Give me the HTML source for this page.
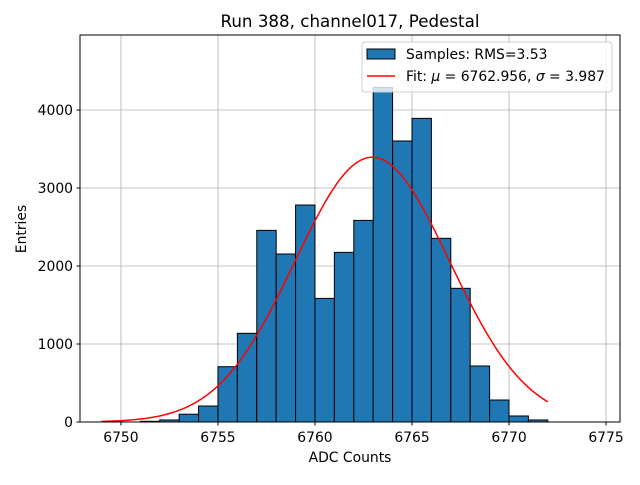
<!DOCTYPE html>
<html><head><meta charset="utf-8"><style>
body{margin:0;background:#fff;}
svg text{font-family:"DejaVu Sans","Liberation Sans",sans-serif;}
</style></head><body>
<svg id="chart" width="640" height="480" xmlns="http://www.w3.org/2000/svg">
<rect width="640" height="480" fill="#fff"/>
<g id="grid"></g>
<g id="bars"></g>
<path id="fit" fill="none" stroke="#ff0000" stroke-width="1.5"/>
<rect x="80" y="35" width="540" height="387" fill="none" stroke="#000" stroke-width="1"/>
<g id="ticks"></g>
<text x="350" y="27" font-size="16.7" text-anchor="middle">Run 388, channel017, Pedestal</text>
<text x="350" y="462" font-size="13.9" text-anchor="middle">ADC Counts</text>
<text x="26" y="229" font-size="13.9" text-anchor="middle" transform="rotate(-90 26 229)">Entries</text>
<g>
<rect x="362" y="42" width="250" height="50" rx="3" fill="#fff" fill-opacity="0.8" stroke="#ccc"/>
<rect x="367" y="49" width="28" height="10" fill="#1f77b4" stroke="#000"/>
<text x="406" y="59" font-size="13.9">Samples: RMS=3.53</text>
<line x1="367" y1="76" x2="395" y2="76" stroke="#f00" stroke-width="1.5"/>
<text x="406" y="81" font-size="13.9">Fit: <tspan font-style="italic">μ</tspan> = 6762.956, <tspan font-style="italic">σ</tspan> = 3.987</text>
</g>
</svg>
<script>
const binStarts=[6751,6752,6753,6754,6755,6756,6757,6758,6759,6760,6761,6762,6763,6764,6765,6766,6767,6768,6769,6770,6771];
const counts=[9,26,100,205,709,1137,2457,2154,2782,1585,2175,2585,4290,3603,3893,2355,1714,718,282,77,26];
const xTicks=[6750,6755,6760,6765,6770,6775];
const yTicks=[0,1000,2000,3000,4000];
const fitMu=6762.956, fitSigma=3.987, fitAmp=3395, fitRange=[6749,6772];
const NS="http://www.w3.org/2000/svg";
const X=v=>80+(v-6747.89)*(540/(6775.72-6747.89));
const Y=v=>422-v*(387/4962);
function mk(t,a,p){const e=document.createElementNS(NS,t);for(const k in a)e.setAttribute(k,a[k]);p.appendChild(e);return e;}
const grid=document.getElementById('grid'),ticks=document.getElementById('ticks'),bars=document.getElementById('bars');
xTicks.forEach(t=>{
 const g=mk('line',{x1:X(t),x2:X(t),y1:35,y2:422,stroke:'#b0b0b0','stroke-width':0.8},grid);
 
 
 const tk=mk('line',{x1:X(t),x2:X(t),y1:422,y2:425.5,stroke:'#000'},ticks);
 
 
 const l=mk('text',{x:X(t),y:442,'font-size':13.9,'text-anchor':'middle'},ticks);l.textContent=t;
 
 
});
yTicks.forEach(t=>{
 const g=mk('line',{x1:80,x2:620,y1:Y(t),y2:Y(t),stroke:'#b0b0b0','stroke-width':0.8},grid);
 
 
 const tk=mk('line',{x1:76.5,x2:80,y1:Y(t),y2:Y(t),stroke:'#000'},ticks);
 
 
 const l=mk('text',{x:73,y:Y(t)+5,'font-size':13.9,'text-anchor':'end'},ticks);l.textContent=t;
 
 
});
binStarts.forEach((b,i)=>{
 const r=mk('rect',{x:X(b),y:Y(counts[i]),width:X(b+1)-X(b),height:Y(0)-Y(counts[i]),fill:'#1f77b4',stroke:'#000','stroke-width':1},bars);
 
 
});
let d='';
for(let i=0;i<=200;i++){const x=fitRange[0]+(fitRange[1]-fitRange[0])*i/200;
 const y=fitAmp*Math.exp(-0.5*((x-fitMu)/fitSigma)**2);
 d+=(i?'L':'M')+X(x).toFixed(2)+','+Y(y).toFixed(2);}
document.getElementById('fit').setAttribute('d',d);
</script>
</body></html>
